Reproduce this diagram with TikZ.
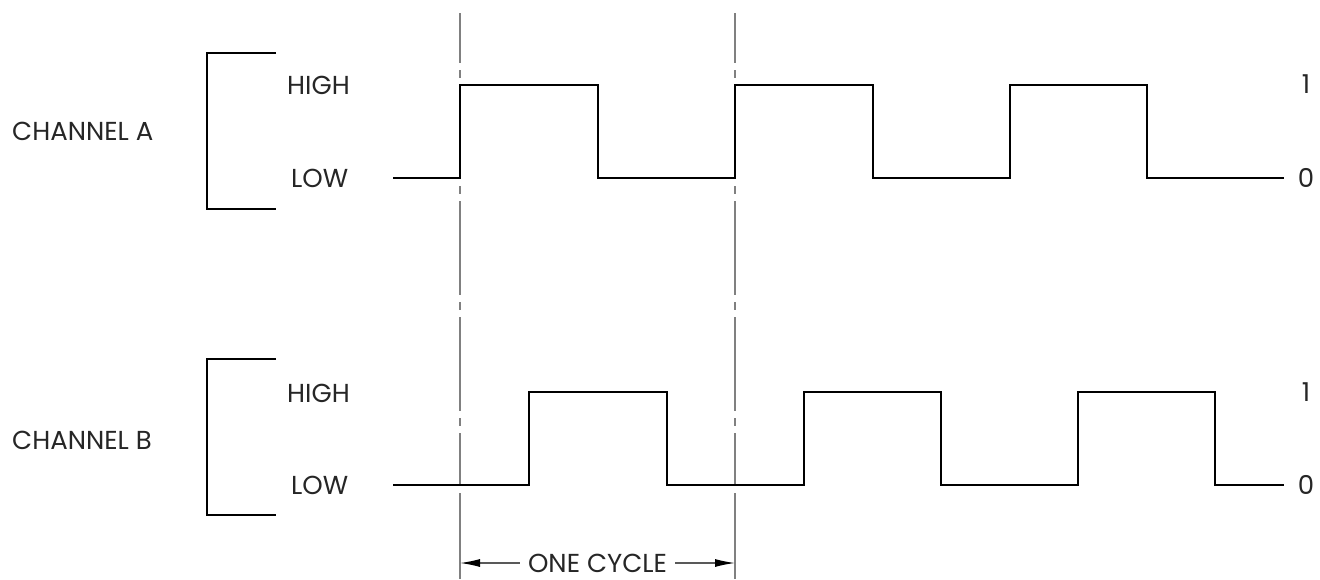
\documentclass[tikz,border=0pt]{standalone}
\usepackage{fontspec}
\setmainfont{Poppins}
\usetikzlibrary{arrows.meta}
\tikzset{
  wave/.style={line width=2.4pt, line join=miter},
  brk/.style={line width=2.2pt},
  lbl/.style={font=\fontsize{26}{28}\selectfont, text=black!85, inner sep=0pt},
  cline/.style={line width=1.4pt, draw=black!50, dash pattern=on 94pt off 7pt on 8pt off 7pt, dash phase=44pt},
  extline/.style={line width=1.4pt, draw=black!50},
  dimarrow/.style={line width=1.3pt, draw=black!65, -{Latex[length=20pt,width=8pt,color=black]}}
}
\begin{document}
\begin{tikzpicture}[x=1pt,y=-1pt]
\useasboundingbox (0,0) rectangle (1320,579);
% channel labels
\node[lbl, anchor=west] (cha) at (12,131) {CHANNEL A};
\node[lbl, anchor=west] (chb) at (12,440) {CHANNEL B};
% brackets
\draw[brk] (276,53) -- (207,53) -- (207,209) -- (276,209);
\draw[brk] (276,359) -- (207,359) -- (207,515) -- (276,515);
% level labels
\node[lbl, anchor=west] (ha) at (287,85) {HIGH};
\node[lbl, anchor=west] (la) at (291,178) {LOW};
\node[lbl, anchor=west] (hb) at (287,393) {HIGH};
\node[lbl, anchor=west] (lb) at (291,485) {LOW};
\node[lbl] (ona) at (1306,84) {1};
\node[lbl] (zea) at (1306,178) {0};
\node[lbl] (onb) at (1306,392) {1};
\node[lbl] (zeb) at (1306,485) {0};
% center lines
\draw[cline] (460,13) -- (460,485);
\draw[cline] (735,13) -- (735,485);
\draw[extline] (460,493) -- (460,579);
\draw[extline] (735,493) -- (735,579);
% waveforms
\draw[wave] (393,178) -- (460,178) -- (460,85) -- (598,85) -- (598,178) -- (735,178) -- (735,85) -- (873,85) -- (873,178) -- (1010,178) -- (1010,85) -- (1147,85) -- (1147,178) -- (1284,178);
\draw[wave] (393,485) -- (529,485) -- (529,392) -- (667,392) -- (667,485) -- (804,485) -- (804,392) -- (941,392) -- (941,485) -- (1078,485) -- (1078,392) -- (1215,392) -- (1215,485) -- (1284,485);
% one cycle dimension
\coordinate (dl) at (460,563);
\coordinate (dr) at (735,563);
\node[lbl] (oc) at (597.5,563) {ONE CYCLE};
\draw[dimarrow] (oc.west) ++(-8,0) -- (dl);
\draw[dimarrow] (oc.east) ++(8,0) -- (dr);
\end{tikzpicture}
\end{document}
